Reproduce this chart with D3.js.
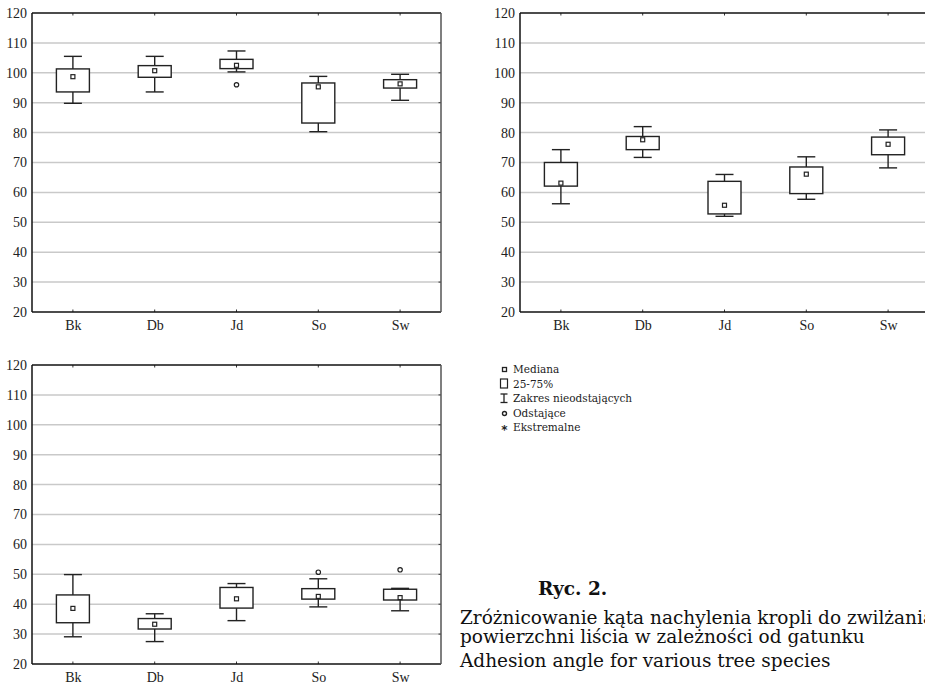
<!DOCTYPE html>
<html>
<head>
<meta charset="utf-8">
<script src="https://cdn.jsdelivr.net/npm/d3@7"></script>
<style>
  body { margin: 0; background: #fff; }
  svg { display: block; font-family: "Liberation Serif", "DejaVu Serif", serif; }
  .tick text { font-family: "Liberation Serif", serif; }
</style>
</head>
<body>
<svg id="chart" width="925" height="684"></svg>
<script>
// categories and axis ticks
const categories = ["Bk", "Db", "Jd", "So", "Sw"];
const yTicks = [20, 30, 40, 50, 60, 70, 80, 90, 100, 110, 120];

// panel A (top left)
const aLow    = [89.8, 93.6, 100.3, 80.3, 90.8];
const aQ1     = [93.6, 98.5, 101.4, 83.2, 94.9];
const aMedian = [98.7, 100.7, 102.5, 95.3, 96.3];
const aQ3     = [101.3, 102.4, 104.5, 96.6, 97.7];
const aHigh   = [105.5, 105.5, 107.3, 98.8, 99.5];
const aOutliers = [[], [], [96.0], [], []];

// panel B (top right)
const bLow    = [56.2, 71.7, 52.0, 57.7, 68.2];
const bQ1     = [62.1, 74.3, 52.8, 59.6, 72.6];
const bMedian = [63.1, 77.6, 55.7, 66.1, 76.1];
const bQ3     = [70.0, 78.7, 63.7, 68.5, 78.5];
const bHigh   = [74.3, 82.0, 66.0, 71.9, 80.9];
const bOutliers = [[], [], [], [], []];

// panel C (bottom left)
const cLow    = [29.1, 27.5, 34.5, 39.1, 37.8];
const cQ1     = [33.8, 31.7, 38.7, 41.7, 41.4];
const cMedian = [38.6, 33.3, 41.8, 42.6, 42.2];
const cQ3     = [43.1, 35.2, 45.6, 45.2, 45.0];
const cHigh   = [49.9, 36.8, 46.9, 48.5, 45.3];
const cOutliers = [[], [], [], [50.7], [51.5]];

const legendLabels = ["Mediana", "25-75%", "Zakres nieodstających", "Odstające", "Ekstremalne"];
const captionLines = [
    "Zróżnicowanie kąta nachylenia kropli do zwilżania",
    "powierzchni liścia w zależności od gatunku",
    "Adhesion angle for various tree species"
];

class BoxPlot {
    constructor(config, data) {
        this.config = {
            parent: config.parent,
            left: config.left,
            top: config.top,
            width: config.width || 409,
            height: config.height || 299
        };
        this.data = data;
        this.init();
    }

    init() {
        let self = this;
        self.chart = d3.select(self.config.parent).append('g')
            .attr('transform', `translate(${self.config.left}, ${self.config.top})`);

        self.xscale = d3.scalePoint()
            .domain(categories)
            .range([0, self.config.width])
            .padding(0.5);

        self.yscale = d3.scaleLinear()
            .domain([20, 120])
            .range([self.config.height, 0]);

        self.render();
    }

    render() {
        let self = this;
        const w = self.config.width, h = self.config.height;
        const bw = 33, cw = 18;

        // gridlines
        self.chart.append('g').selectAll('line')
            .data(yTicks.slice(1, -1))
            .join('line')
            .attr('x1', 0).attr('x2', w)
            .attr('y1', d => self.yscale(d)).attr('y2', d => self.yscale(d))
            .attr('stroke', '#c9c9c9')
            .attr('stroke-width', 1.5);

        // y axis labels
        const yaxis = d3.axisLeft(self.yscale).tickValues(yTicks).tickSize(0).tickPadding(5);
        const yg = self.chart.append('g').call(yaxis)
            .attr('font-family', '"Liberation Serif", serif');
        yg.select('.domain').remove();
        yg.selectAll('text')
            .style('font-size', '14px')
            .attr('fill', '#222');

        // x axis labels
        const xaxis = d3.axisBottom(self.xscale).tickSize(0).tickPadding(8);
        const xg = self.chart.append('g')
            .attr('transform', `translate(0, ${h})`)
            .call(xaxis)
            .attr('font-family', '"Liberation Serif", serif');
        xg.select('.domain').remove();
        xg.selectAll('text')
            .style('font-size', '14px')
            .attr('fill', '#222');

        // small inward ticks
        self.chart.append('g').selectAll('line')
            .data(categories)
            .join('line')
            .attr('x1', d => self.xscale(d)).attr('x2', d => self.xscale(d))
            .attr('y1', 0).attr('y2', 2.5)
            .attr('stroke', '#333');
        self.chart.append('g').selectAll('line')
            .data(categories)
            .join('line')
            .attr('x1', d => self.xscale(d)).attr('x2', d => self.xscale(d))
            .attr('y1', h).attr('y2', h - 2.5)
            .attr('stroke', '#333');
        self.chart.append('g').selectAll('line')
            .data(yTicks.slice(1, -1))
            .join('line')
            .attr('x1', w).attr('x2', w - 2.5)
            .attr('y1', d => self.yscale(d)).attr('y2', d => self.yscale(d))
            .attr('stroke', '#333');

        // frame
        self.chart.append('line').attr('x1', 0).attr('x2', w).attr('y1', 0).attr('y2', 0)
            .attr('stroke', '#111').attr('stroke-width', 1.5);
        self.chart.append('line').attr('x1', 0).attr('x2', w).attr('y1', h).attr('y2', h)
            .attr('stroke', '#111').attr('stroke-width', 1.5);
        self.chart.append('line').attr('x1', 0).attr('x2', 0).attr('y1', 0).attr('y2', h)
            .attr('stroke', '#111').attr('stroke-width', 1.5);
        self.chart.append('line').attr('x1', w).attr('x2', w).attr('y1', 0).attr('y2', h)
            .attr('stroke', '#555').attr('stroke-width', 1.5);

        const rows = categories.map((c, i) => ({
            cat: c,
            low: self.data.low[i], q1: self.data.q1[i], med: self.data.median[i],
            q3: self.data.q3[i], high: self.data.high[i], out: self.data.outliers[i]
        }));

        const boxes = self.chart.append('g').selectAll('g')
            .data(rows)
            .join('g')
            .attr('transform', d => `translate(${self.xscale(d.cat)}, 0)`)
            .attr('stroke', '#222')
            .attr('stroke-width', 1.4)
            .attr('fill', 'none');

        boxes.append('line')
            .attr('x1', 0).attr('x2', 0)
            .attr('y1', d => self.yscale(d.high)).attr('y2', d => self.yscale(d.q3));
        boxes.append('line')
            .attr('x1', 0).attr('x2', 0)
            .attr('y1', d => self.yscale(d.q1)).attr('y2', d => self.yscale(d.low));
        boxes.append('line')
            .attr('x1', -cw / 2).attr('x2', cw / 2)
            .attr('y1', d => self.yscale(d.high)).attr('y2', d => self.yscale(d.high));
        boxes.append('line')
            .attr('x1', -cw / 2).attr('x2', cw / 2)
            .attr('y1', d => self.yscale(d.low)).attr('y2', d => self.yscale(d.low));
        boxes.append('rect')
            .attr('x', -bw / 2).attr('width', bw)
            .attr('y', d => self.yscale(d.q3))
            .attr('height', d => self.yscale(d.q1) - self.yscale(d.q3))
            .attr('fill', '#fff');
        boxes.append('rect')
            .attr('x', -2).attr('width', 4)
            .attr('y', d => self.yscale(d.med) - 2).attr('height', 4)
            .attr('stroke-width', 1.2)
            .attr('fill', '#fff');
        boxes.selectAll('circle')
            .data(d => d.out)
            .join('circle')
            .attr('cx', 0)
            .attr('cy', d => self.yscale(d))
            .attr('r', 2.2)
            .attr('stroke-width', 1.2)
            .attr('fill', '#fff');
    }
}

const svg = d3.select('#chart');

new BoxPlot({ parent: '#chart', left: 32, top: 13 },
    { low: aLow, q1: aQ1, median: aMedian, q3: aQ3, high: aHigh, outliers: aOutliers });
new BoxPlot({ parent: '#chart', left: 520, top: 13 },
    { low: bLow, q1: bQ1, median: bMedian, q3: bQ3, high: bHigh, outliers: bOutliers });
new BoxPlot({ parent: '#chart', left: 32, top: 365 },
    { low: cLow, q1: cQ1, median: cMedian, q3: cQ3, high: cHigh, outliers: cOutliers });

// legend
const step = 14.5;
const legend = svg.append('g').attr('transform', 'translate(504, 369)');
legend.selectAll('text')
    .data(legendLabels)
    .join('text')
    .attr('x', 9)
    .attr('y', (d, i) => i * step + 4)
    .attr('font-family', '"DejaVu Serif", serif')
    .attr('font-size', 10.5)
    .attr('fill', '#222')
    .text(d => d);
const sym = legend.append('g').attr('stroke', '#222').attr('fill', 'none');
sym.append('rect').attr('x', -1.5).attr('y', -1.5).attr('width', 4).attr('height', 4).attr('stroke-width', 1.3);
sym.append('rect').attr('x', -3.5).attr('y', step - 4.5).attr('width', 7).attr('height', 9).attr('stroke-width', 1.2);
sym.append('line').attr('x1', 0).attr('x2', 0).attr('y1', 2 * step - 4).attr('y2', 2 * step + 4.5).attr('stroke-width', 1.3);
sym.append('line').attr('x1', -3.5).attr('x2', 3.5).attr('y1', 2 * step - 4).attr('y2', 2 * step - 4).attr('stroke-width', 1.3);
sym.append('line').attr('x1', -3.5).attr('x2', 3.5).attr('y1', 2 * step + 4.5).attr('y2', 2 * step + 4.5).attr('stroke-width', 1.3);
sym.append('circle').attr('cx', 0.5).attr('cy', 3 * step + 1).attr('r', 2).attr('stroke-width', 1.4);
sym.append('text').attr('x', 0.5).attr('y', 4 * step + 6.5).attr('text-anchor', 'middle')
    .attr('font-family', '"DejaVu Sans", sans-serif')
    .attr('font-size', 12).attr('font-weight', 'bold').attr('fill', '#222').attr('stroke', 'none').text('*');

// caption
const caption = svg.append('g').attr('fill', '#111').attr('font-family', '"DejaVu Serif", serif');
caption.append('text').attr('x', 538).attr('y', 595)
    .attr('font-size', 18.5).attr('font-weight', 'bold').text('Ryc. 2.');
caption.selectAll('text.line')
    .data(captionLines)
    .join('text')
    .attr('class', 'line')
    .attr('x', 460)
    .attr('y', (d, i) => [624, 643, 667][i])
    .attr('font-size', 18.5)
    .text(d => d);
</script>
</body>
</html>
